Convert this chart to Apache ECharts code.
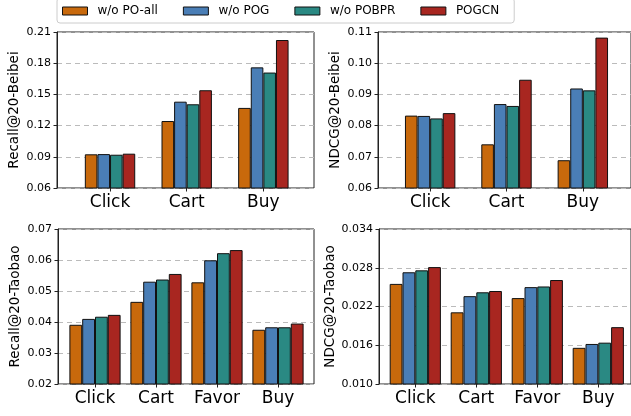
<!DOCTYPE html>
<html>
<head>
<meta charset="utf-8">
<script src="https://cdn.jsdelivr.net/npm/echarts@6/dist/echarts.min.js"></script>
<style>
  html, body { margin: 0; padding: 0; background: #fff; }
  #chart { width: 631px; height: 416px; }
</style>
</head>
<body>
<div id="chart"></div>
<script>
  const seriesNames = ['w/o PO-all', 'w/o POG', 'w/o POBPR', 'POGCN'];
  const colors = ['#c8690c', '#4a7eb6', '#2a8983', '#a82620'];

  const beibeiCategories = ['Click', 'Cart', 'Buy'];
  const taobaoCategories = ['Click', 'Cart', 'Favor', 'Buy'];

  // one row per series, in seriesNames order
  const recallBeibei = [
    [0.0924, 0.1244, 0.1370],
    [0.0926, 0.1430, 0.1760],
    [0.0920, 0.1405, 0.1710],
    [0.0930, 0.1540, 0.2023]
  ];
  const ndcgBeibei = [
    [0.0832, 0.0740, 0.0689],
    [0.0831, 0.0869, 0.0919],
    [0.0823, 0.0863, 0.0913],
    [0.0840, 0.0947, 0.1082]
  ];
  const recallTaobao = [
    [0.0391, 0.0465, 0.0528, 0.0375],
    [0.0410, 0.0530, 0.0599, 0.0383],
    [0.0417, 0.0537, 0.0622, 0.0383],
    [0.0423, 0.0555, 0.0632, 0.0395]
  ];
  const ndcgTaobao = [
    [0.0255, 0.0211, 0.0233, 0.0156],
    [0.0273, 0.0236, 0.0250, 0.0162],
    [0.0276, 0.0242, 0.0251, 0.0164],
    [0.0281, 0.0244, 0.0261, 0.0188]
  ];

  const recallBeibeiTicks = [0.06, 0.09, 0.12, 0.15, 0.18, 0.21];
  const ndcgBeibeiTicks = [0.06, 0.07, 0.08, 0.09, 0.10, 0.11];
  const recallTaobaoTicks = [0.02, 0.03, 0.04, 0.05, 0.06, 0.07];
  const ndcgTaobaoTicks = [0.010, 0.016, 0.022, 0.028, 0.034];

  const FONT = 'DejaVu Sans';
  const INK = '#222';

  // box = axes frame, inner = where the category bands sit (matplotlib xlim padding)
  const panels = [
    { name: 'Recall@20-Beibei', cats: beibeiCategories, data: recallBeibei, ticks: recallBeibeiTicks, digits: 2,
      box: { left: 57, top: 32, width: 257, height: 156 }, inner: { left: 71.7, width: 230 }, barWidth: 12.6 },
    { name: 'NDCG@20-Beibei', cats: beibeiCategories, data: ndcgBeibei, ticks: ndcgBeibeiTicks, digits: 2,
      box: { left: 378, top: 32, width: 257, height: 156 }, inner: { left: 392, width: 229 }, barWidth: 12.6 },
    { name: 'Recall@20-Taobao', cats: taobaoCategories, data: recallTaobao, ticks: recallTaobaoTicks, digits: 2,
      box: { left: 58, top: 229, width: 256, height: 155 }, inner: { left: 64.5, width: 244 }, barWidth: 12.8 },
    { name: 'NDCG@20-Taobao', cats: taobaoCategories, data: ndcgTaobao, ticks: ndcgTaobaoTicks, digits: 3,
      box: { left: 379, top: 229, width: 256, height: 155 }, inner: { left: 384.8, width: 244 }, barWidth: 12.8 }
  ];

  const grid = [], xAxis = [], yAxis = [], series = [];

  panels.forEach((p, i) => {
    const min = p.ticks[0];
    const max = p.ticks[p.ticks.length - 1];
    const interval = p.ticks[1] - p.ticks[0];
    const boxIdx = i * 2, innerIdx = i * 2 + 1;

    grid.push({ left: p.box.left, top: p.box.top, width: p.box.width, height: p.box.height,
      show: true, borderColor: INK, borderWidth: 1, backgroundColor: 'transparent' });
    grid.push({ left: p.inner.left, top: p.box.top, width: p.inner.width, height: p.box.height });

    xAxis.push({ type: 'value', gridIndex: boxIdx, show: false, min: 0, max: 1 });
    xAxis.push({
      type: 'category', gridIndex: innerIdx, data: p.cats,
      axisLine: { show: false },
      axisTick: { show: true, alignWithLabel: true, length: 3.5, lineStyle: { color: INK } },
      axisLabel: { fontFamily: FONT, fontSize: 17, color: '#000', margin: 6 }
    });

    yAxis.push({
      type: 'value', gridIndex: boxIdx, min, max, interval,
      name: p.name, nameLocation: 'middle', nameGap: 36,
      nameTextStyle: { fontFamily: FONT, fontSize: 13.5, color: '#000' },
      axisLine: { show: true, lineStyle: { color: INK } },
      axisTick: { show: true, length: 3.5, lineStyle: { color: INK } },
      axisLabel: { fontFamily: FONT, fontSize: 11, color: '#000', margin: 6,
        formatter: v => v.toFixed(p.digits) },
      splitLine: { show: true, lineStyle: { color: '#bbb', type: [5, 4], width: 1 } }
    });
    yAxis.push({ type: 'value', gridIndex: innerIdx, min, max, show: false, splitLine: { show: false } });

    p.data.forEach((vals, s) => {
      series.push({
        name: seriesNames[s], type: 'bar',
        xAxisIndex: innerIdx, yAxisIndex: innerIdx,
        data: vals, barWidth: p.barWidth, barGap: '0%',
        itemStyle: { color: colors[s], borderColor: '#111', borderWidth: 1 },
        emphasis: { disabled: true }
      });
    });
  });

  const chart = echarts.init(document.getElementById('chart'), null, { renderer: 'canvas' });
  chart.setOption({
    animation: false,
    color: colors,
    legend: {
      data: seriesNames,
      icon: 'rect',
      left: 57, top: -2,
      padding: [7, 15, 6, 5],
      itemWidth: 25, itemHeight: 8, itemGap: 25,
      borderColor: '#ccc', borderWidth: 1, borderRadius: 3,
      backgroundColor: '#fff',
      itemStyle: { borderColor: '#111', borderWidth: 1 },
      textStyle: { fontFamily: FONT, fontSize: 12, color: '#000', padding: [0, 0, 0, 5] }
    },
    grid, xAxis, yAxis, series
  });
</script>
</body>
</html>
